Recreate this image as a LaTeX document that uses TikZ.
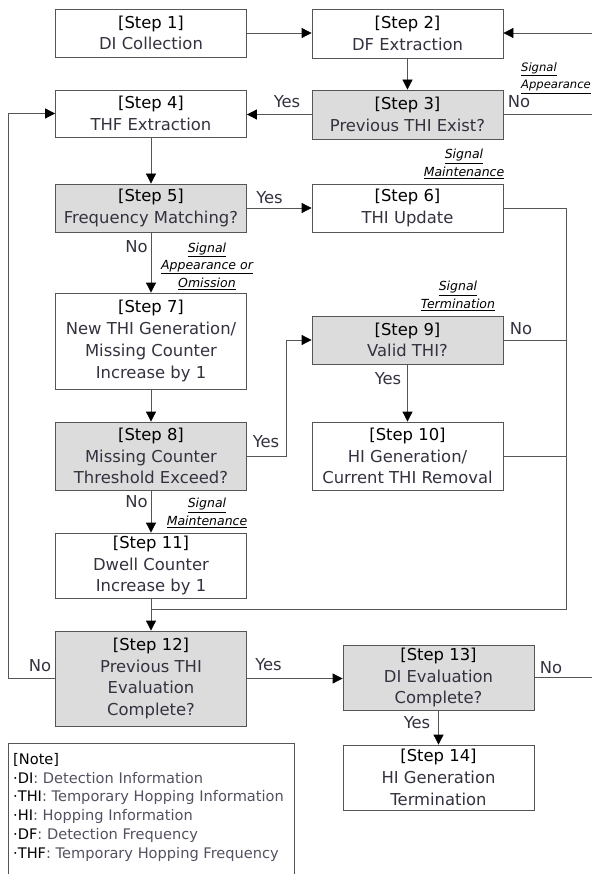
\documentclass[tikz,border=0pt]{standalone}
\usepackage{fontspec}
\setmainfont{DejaVu Sans}
\usetikzlibrary{arrows.meta}
\definecolor{linec}{HTML}{555555}
\definecolor{gfill}{HTML}{DCDCDC}
\definecolor{txtc}{HTML}{333340}
\definecolor{notec}{HTML}{555060}
\newcommand{\stp}[2]{{\color{black}[Step #1]}\\#2}
\newcommand{\sig}[1]{\textit{\underline{#1}}}
\begin{document}
\begin{tikzpicture}[x=1pt,y=-1pt,
  box/.style={draw=linec, line width=0.8pt, fill=white, minimum width=191pt, inner sep=0pt, align=center, text=txtc, font=\fontsize{16.4}{21.75}\selectfont},
  dec/.style={box, fill=gfill},
  lbl/.style={font=\fontsize{16.4}{20}\selectfont, text=txtc, inner sep=0pt},
  sigl/.style={font=\fontsize{12.5}{17.5}\selectfont, align=center, inner sep=0pt, text=black},
  ln/.style={draw=linec, line width=0.8pt},
  arr/.style={ln, -{Triangle[length=10pt,width=10pt,color=black]}},
]
\useasboundingbox (0,0) rectangle (592,874);

% boxes
\node[box, minimum height=48pt] (s1) at (151,33) {\stp{1}{DI Collection}};
\node[box, minimum height=49pt] (s2) at (407.5,33.5) {\stp{2}{DF Extraction}};
\node[dec, minimum height=49pt] (s3) at (407.5,114.5) {\stp{3}{Previous THI Exist?}};
\node[box, minimum height=47pt] (s4) at (151,113.5) {\stp{4}{THF Extraction}};
\node[dec, minimum height=48pt] (s5) at (151,208) {\stp{5}{Frequency Matching?}};
\node[box, minimum height=48pt] (s6) at (407.5,208) {\stp{6}{THI Update}};
\node[box, minimum height=96pt] (s7) at (151,341) {\stp{7}{New THI Generation/\\Missing Counter\\Increase by 1}};
\node[dec, minimum height=48pt] (s9) at (407.5,340) {\stp{9}{Valid THI?}};
\node[dec, minimum height=68pt] (s8) at (151,456) {\stp{8}{Missing Counter\\Threshold Exceed?}};
\node[box, minimum height=68pt] (s10) at (407.5,456) {\stp{10}{HI Generation/\\Current THI Removal}};
\node[box, minimum height=65pt] (s11) at (151,565.5) {\stp{11}{Dwell Counter\\Increase by 1}};
\node[dec, minimum height=95pt] (s12) at (151,678.5) {\stp{12}{Previous THI\\Evaluation\\Complete?}};
\node[dec, minimum height=65pt] (s13) at (438.5,677.5) {\stp{13}{DI Evaluation\\Complete?}};
\node[box, minimum height=65pt] (s14) at (438.5,777.5) {\stp{14}{HI Generation\\Termination}};

% note
\node[draw=linec, line width=0.8pt, anchor=north west, minimum width=286pt, minimum height=131pt, inner sep=0pt] (note) at (8,743) {};
\node[anchor=north west, align=left, inner sep=0pt, font=\fontsize{14.6}{18.8}\selectfont, text=notec] (notetext) at (13,753)
 {{\color{black}[Note]}\\
  {\color{black}·DI}: Detection Information\\
  {\color{black}·THI}: Temporary Hopping Information\\
  {\color{black}·HI}: Hopping Information\\
  {\color{black}·DF}: Detection Frequency\\
  {\color{black}·THF}: Temporary Hopping Frequency};

% coordinates
\coordinate (e2) at (592,33);
\coordinate (ex) at (592,0);
\coordinate (rx) at (566,609);
\coordinate (m12) at (151,609);
\coordinate (lx) at (8,0);
\coordinate (yx) at (286,0);

% connectors
\draw[arr] (s1.east) -- (s1.east -| s2.west);
\draw[arr] (e2) -- (e2 -| s2.east);
\draw[arr] (s2.south) -- (s2.south |- s3.north);
\draw[arr] (s3.west) -- (s3.west -| s4.east);
\draw[ln] (s3.east) -- (s3.east -| ex);
\draw[arr] (s4.south) -- (s4.south |- s5.north);
\draw[arr] (s5.east) -- (s5.east -| s6.west);
\draw[ln] (s6.east) -| (rx) -- (m12);
\draw[arr] (s5.south) -- (s5.south |- s7.north);
\draw[arr] (s7.south) -- (s7.south |- s8.north);
\draw[arr] (s8.east) -| (yx |- s9.west) -- (s9.west);
\draw[arr] (s9.south) -- (s9.south |- s10.north);
\draw[ln] (s9.east) -- (s9.east -| rx);
\draw[ln] (s10.east) -- (s10.east -| rx);
\draw[arr] (s8.south) -- (s8.south |- s11.north);
\draw[ln] (s11.south) -- (m12);
\draw[arr] (m12) -- (m12 |- s12.north);
\draw[arr] (s12.west) -| (lx |- s4.west) -- (s4.west);
\draw[arr] (s12.east) -- (s12.east -| s13.west);
\draw[ln] (s13.east) -- (s13.east -| ex);
\draw[arr] (s13.south) -- (s13.south |- s14.north);

% yes/no labels
\node[lbl] (l3y) at (287,102) {Yes};
\node[lbl] (l3n) at (519,102) {No};
\node[lbl] (l5y) at (269.5,198) {Yes};
\node[lbl] (l5n) at (136.5,247) {No};
\node[lbl] (l9n) at (521,329) {No};
\node[lbl] (l9y) at (388,379) {Yes};
\node[lbl] (l8y) at (266,442) {Yes};
\node[lbl] (l8n) at (136.5,502) {No};
\node[lbl] (l12n) at (40,666) {No};
\node[lbl] (l12y) at (268.5,665) {Yes};
\node[lbl] (l13n) at (551,668) {No};
\node[lbl] (l13y) at (417,723) {Yes};

% signal labels
\node[sigl, font=\fontsize{11.6}{17.5}\selectfont, anchor=east, align=left] (sa1) at (591,78) {\sig{Signal}\\\sig{Appearance}};
\node[sigl] (sm1) at (464,164) {\sig{Signal}\\\sig{Maintenance}};
\node[sigl] (sao) at (207,266) {\sig{Signal}\\\sig{Appearance or}\\\sig{Omission}};
\node[sigl] (st) at (458,296) {\sig{Signal}\\\sig{Termination}};
\node[sigl] (sm2) at (207,513) {\sig{Signal}\\\sig{Maintenance}};
\end{tikzpicture}
\end{document}
